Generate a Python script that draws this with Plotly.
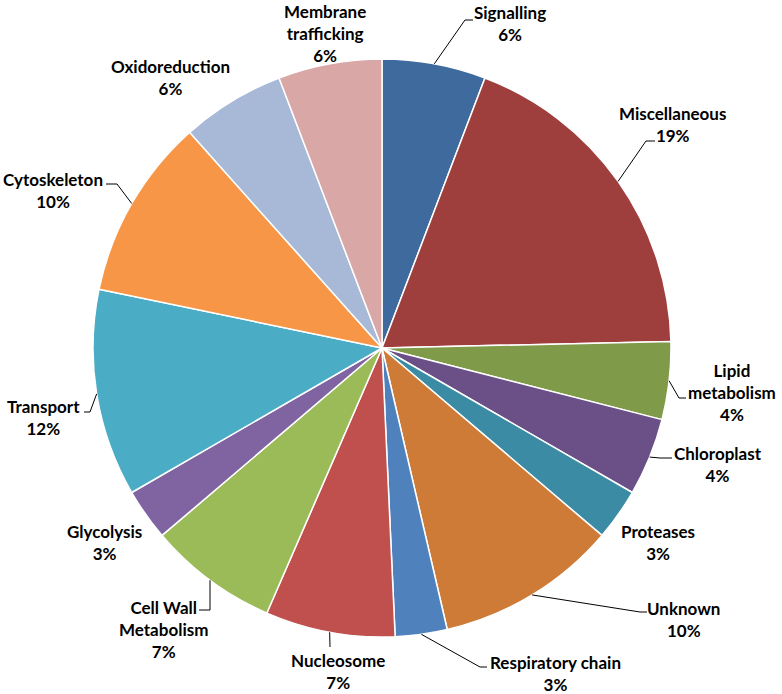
import math
import plotly.graph_objects as go

# ---- data ----
categories = ["Signalling", "Miscellaneous", "Lipid<br>metabolism", "Chloroplast", "Proteases",
              "Unknown", "Respiratory chain", "Nucleosome", "Cell Wall<br>Metabolism", "Glycolysis",
              "Transport", "Cytoskeleton", "Oxidoreduction", "Membrane<br>trafficking"]
counts = [4, 13, 3, 3, 2, 7, 2, 5, 5, 2, 8, 7, 4, 4]

colors = ["#3F6A9D", "#9E3F3D", "#7F9A48", "#6A5087", "#3A8BA3", "#CD7B37", "#4F81BD",
          "#C0504D", "#9BBB59", "#8064A2", "#4BACC6", "#F79646", "#A8B9D8", "#D9A7A6"]

# ---- layout (pixels) ----
W, H = 782, 694
CX, CY, R = 382, 348, 289

# label text centers (px)
label_pos = [(510, 23.5), (672, 125), (732, 392), (718, 464), (658, 542.5),
             (683, 619), (555, 673.5), (338, 671), (163, 629), (104, 542),
             (43, 417.5), (53, 190.5), (170, 77.5), (325, 33)]
# leader line elbow and end (px); None => no leader line
leaders = [((465, 20), (473, 20)), ((646, 141), (655, 141)), ((679, 398), (686, 398)),
           ((660, 458), (672, 458)), None, ((640, 612), (647, 612)),
           ((480, 667), (487, 667)), ((330, 647), (330, 647)), ((210, 610), (199, 610)),
           None, ((90, 412), (84, 412)), ((117, 184), (106, 184)), None, None]


def px(x):
    return x / W


def py(y):
    return 1 - y / H


fig = go.Figure(go.Pie(
    labels=[c.replace("<br>", " ") for c in categories],
    values=counts,
    sort=False,
    direction="clockwise",
    rotation=0,
    marker=dict(colors=colors, line=dict(color="white", width=1.5)),
    textinfo="none",
    hoverinfo="label+percent",
    domain=dict(x=[(CX - R) / W, (CX + R) / W], y=[1 - (CY + R) / H, 1 - (CY - R) / H]),
    showlegend=False,
))

total = sum(counts)
annotations = []
shapes = []
cum = 0
for cat, v, (lx, ly), ld in zip(categories, counts, label_pos, leaders):
    pct = round(v / total * 100)
    annotations.append(dict(
        x=px(lx), y=py(ly), xref="paper", yref="paper",
        text=f"{cat}<br>{pct}%", showarrow=False, align="center",
        xanchor="center", yanchor="middle",
        font=dict(family="Lato", size=17, color="#000000", weight="bold"),
    ))
    ang = math.radians((cum + v / 2) / total * 360)
    sx = CX + R * math.sin(ang)
    sy = CY - R * math.cos(ang)
    if ld is not None:
        (ex, ey), (tx, ty) = ld
        path = f"M {px(sx)},{py(sy)} L {px(ex)},{py(ey)} L {px(tx)},{py(ty)}"
        shapes.append(dict(type="path", path=path, xref="paper", yref="paper",
                           line=dict(color="#000000", width=1)))
    cum += v

fig.update_layout(
    width=W, height=H,
    margin=dict(l=0, r=0, t=0, b=0),
    paper_bgcolor="white", plot_bgcolor="white",
    annotations=annotations, shapes=shapes,
)

fig.write_html("out.html",
               config={"displayModeBar": False},
               post_script="document.body.style.margin='0';document.body.style.overflow='hidden';")
